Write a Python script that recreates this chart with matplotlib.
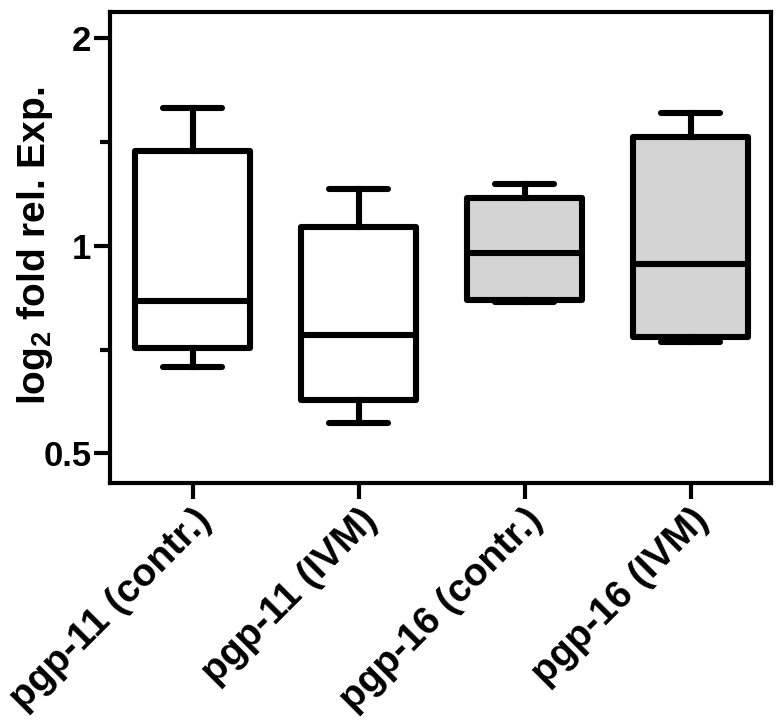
import matplotlib
matplotlib.use('Agg')
from matplotlib import pyplot as plt
from matplotlib.ticker import FixedLocator, FixedFormatter, NullFormatter

# values (fold expression, log2 axis)
groups = ['pgp-11 (contr.)', 'pgp-11 (IVM)', 'pgp-16 (contr.)', 'pgp-16 (IVM)']
whisker_lo = [0.668, 0.553, 0.830, 0.726]
q1 = [0.711, 0.597, 0.835, 0.739]
medians = [0.833, 0.743, 0.978, 0.941]
q3 = [1.374, 1.067, 1.175, 1.441]
whisker_hi = [1.588, 1.209, 1.229, 1.558]
fills = ['white', 'white', '#d4d4d4', '#d4d4d4']


def main():
    plt.rcParams['font.family'] = ['Liberation Sans', 'DejaVu Sans']
    plt.rcParams['font.weight'] = 'bold'
    plt.rcParams['mathtext.fontset'] = 'custom'
    plt.rcParams['mathtext.bf'] = 'Liberation Sans:bold'
    plt.rcParams['mathtext.rm'] = 'Liberation Sans:bold'
    plt.rcParams['mathtext.default'] = 'bf'

    fig = plt.figure(figsize=(7.83, 7.27), dpi=100)
    ax = fig.add_axes([0.1405, 0.3356, 0.8442, 0.6479])

    stats = []
    for i in range(len(groups)):
        stats.append({
            'med': medians[i], 'q1': q1[i], 'q3': q3[i],
            'whislo': whisker_lo[i], 'whishi': whisker_hi[i],
            'fliers': [], 'label': groups[i],
        })

    lw = 4.4
    bp = ax.bxp(
        stats, positions=[1, 2, 3, 4], widths=0.69, capwidths=0.36,
        patch_artist=True, showfliers=False,
        boxprops=dict(linewidth=lw, edgecolor='black', joinstyle='round'),
        medianprops=dict(linewidth=lw, color='black'),
        whiskerprops=dict(linewidth=lw, color='black'),
        capprops=dict(linewidth=lw, color='black', solid_capstyle='round'),
    )
    for patch, c in zip(bp['boxes'], fills):
        patch.set_facecolor(c)

    ax.set_yscale('log', base=2)
    ax.set_ylim(0.453, 2.185)
    ax.set_xlim(0.503, 4.485)
    ax.yaxis.set_major_locator(FixedLocator([0.5, 1, 2]))
    ax.yaxis.set_major_formatter(FixedFormatter(['0.5', '1', '2']))
    ax.yaxis.set_minor_locator(FixedLocator([0.7071, 1.4142]))
    ax.yaxis.set_minor_formatter(NullFormatter())

    for s in ax.spines.values():
        s.set_linewidth(3.0)
    ax.tick_params(axis='both', which='major', width=3.0, length=11.5, pad=2)
    ax.tick_params(axis='y', which='major', labelsize=25)
    ax.tick_params(axis='y', which='minor', width=3.0, length=7)
    ax.set_xticks([1, 2, 3, 4])
    ax.set_xticklabels(groups, rotation=45, ha='right', rotation_mode='anchor',
                       fontsize=28, fontweight='bold')
    for lab in ax.get_yticklabels():
        lab.set_fontweight('bold')

    ax.set_ylabel('log$_2$ fold rel. Exp.', fontsize=28, fontweight='bold')
    ax.yaxis.set_label_coords(-0.083, 0.503)

    plt.savefig('out.png', dpi=100)


if __name__ == '__main__':
    main()
